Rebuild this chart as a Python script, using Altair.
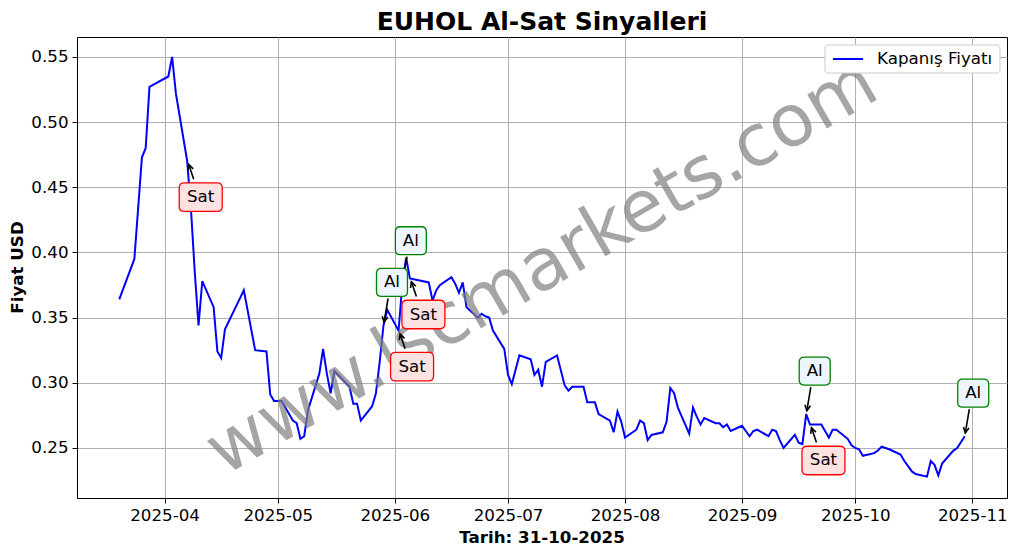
import altair as alt
import pandas as pd

# ---- data ----
dates = [
    "2025-03-20", "2025-03-24", "2025-03-26", "2025-03-27", "2025-03-28",
    "2025-04-02", "2025-04-03", "2025-04-04", "2025-04-07", "2025-04-08",
    "2025-04-09", "2025-04-10", "2025-04-11", "2025-04-14", "2025-04-15",
    "2025-04-16", "2025-04-17", "2025-04-18", "2025-04-21", "2025-04-22",
    "2025-04-25", "2025-04-28", "2025-04-29", "2025-04-30", "2025-05-02",
    "2025-05-05", "2025-05-06", "2025-05-07", "2025-05-08", "2025-05-09",
    "2025-05-12", "2025-05-13", "2025-05-14", "2025-05-15", "2025-05-16",
    "2025-05-20", "2025-05-21", "2025-05-22", "2025-05-23", "2025-05-26",
    "2025-05-27", "2025-05-28", "2025-05-29", "2025-05-30", "2025-06-02",
    "2025-06-03", "2025-06-04", "2025-06-05", "2025-06-10", "2025-06-11",
    "2025-06-12", "2025-06-13", "2025-06-16", "2025-06-17", "2025-06-18",
    "2025-06-19", "2025-06-20", "2025-06-23", "2025-06-24", "2025-06-25",
    "2025-06-26", "2025-06-27", "2025-06-30", "2025-07-01", "2025-07-02",
    "2025-07-03", "2025-07-04", "2025-07-07", "2025-07-08", "2025-07-09",
    "2025-07-10", "2025-07-11", "2025-07-14", "2025-07-16", "2025-07-17",
    "2025-07-18", "2025-07-21", "2025-07-22", "2025-07-23", "2025-07-24",
    "2025-07-25", "2025-07-28", "2025-07-29", "2025-07-30", "2025-07-31",
    "2025-08-01", "2025-08-04", "2025-08-05", "2025-08-06", "2025-08-07",
    "2025-08-08", "2025-08-11", "2025-08-12", "2025-08-13", "2025-08-14",
    "2025-08-15", "2025-08-18", "2025-08-19", "2025-08-20", "2025-08-21",
    "2025-08-22", "2025-08-25", "2025-08-26", "2025-08-27", "2025-08-28",
    "2025-08-29", "2025-09-01", "2025-09-02", "2025-09-03", "2025-09-04",
    "2025-09-05", "2025-09-08", "2025-09-09", "2025-09-10", "2025-09-11",
    "2025-09-12", "2025-09-15", "2025-09-16", "2025-09-17", "2025-09-18",
    "2025-09-19", "2025-09-22", "2025-09-23", "2025-09-24", "2025-09-25",
    "2025-09-26", "2025-09-29", "2025-09-30", "2025-10-01", "2025-10-02",
    "2025-10-03", "2025-10-06", "2025-10-07", "2025-10-08", "2025-10-09",
    "2025-10-10", "2025-10-13", "2025-10-14", "2025-10-15", "2025-10-16",
    "2025-10-17", "2025-10-20", "2025-10-21", "2025-10-22", "2025-10-23",
    "2025-10-24", "2025-10-27", "2025-10-28", "2025-10-30",
]
prices = [
    0.364, 0.395, 0.473, 0.480, 0.527,
    0.535, 0.550, 0.522, 0.470, 0.433,
    0.385, 0.344, 0.378, 0.358, 0.324,
    0.319, 0.341, 0.347, 0.365, 0.371,
    0.325, 0.324, 0.291, 0.286, 0.286,
    0.271, 0.269, 0.257, 0.259, 0.279,
    0.307, 0.326, 0.307, 0.292, 0.309,
    0.297, 0.284, 0.284, 0.271, 0.282,
    0.292, 0.316, 0.344, 0.356, 0.340,
    0.376, 0.396, 0.380, 0.377, 0.363,
    0.371, 0.375, 0.381, 0.376, 0.369,
    0.377, 0.358, 0.350, 0.353, 0.351,
    0.350, 0.340, 0.326, 0.306, 0.299,
    0.310, 0.321, 0.318, 0.306, 0.310,
    0.297, 0.316, 0.321, 0.298, 0.294,
    0.297, 0.297, 0.285, 0.285, 0.285,
    0.276, 0.271, 0.262, 0.278, 0.270,
    0.258, 0.264, 0.271, 0.269, 0.256,
    0.260, 0.262, 0.270, 0.296, 0.292,
    0.281, 0.261, 0.281, 0.274, 0.268,
    0.273, 0.269, 0.269, 0.266, 0.268,
    0.263, 0.267, 0.263, 0.259, 0.263,
    0.264, 0.259, 0.264, 0.263, 0.256,
    0.250, 0.260, 0.254, 0.253, 0.276,
    0.268, 0.268, 0.263, 0.258, 0.264,
    0.264, 0.257, 0.252, 0.250, 0.249,
    0.244, 0.246, 0.248, 0.251, 0.250,
    0.249, 0.245, 0.240, 0.236, 0.232,
    0.230, 0.228, 0.240, 0.237, 0.229,
    0.238, 0.248, 0.250, 0.259,
]

signal_dates = ["2025-04-07", "2025-05-29", "2025-06-02", "2025-06-03",
                "2025-06-05", "2025-09-18", "2025-09-19", "2025-10-30"]
signal_types = ["Sat", "Al", "Sat", "Al", "Sat", "Al", "Sat", "Al"]

title_text = "EUHOL Al-Sat Sinyalleri"
x_title = "Tarih: 31-10-2025"
y_title = "Fiyat USD"
legend_label = "Kapanış Fiyatı"
watermark = "www.lscmarkets.com"

# ---- tables ----
df = pd.DataFrame({"date": pd.to_datetime(dates), "price": prices})
sig = pd.DataFrame({"date": pd.to_datetime(signal_dates), "type": signal_types})
sig = sig.merge(df, on="date", how="left")
sig_al = sig[sig["type"] == "Al"]
sig_sat = sig[sig["type"] == "Sat"]

W, H = 930, 461
FONT = "DejaVu Sans"
FS = 16.7

x_scale = alt.Scale(domain=[alt.DateTime(year=2025, month=3, date=8, hours=19, minutes=12),
                            alt.DateTime(year=2025, month=11, date=10, hours=4, minutes=48)],
                    nice=False)
y_scale = alt.Scale(domain=[0.2116, 0.5653], nice=False, zero=False)
x_axis = alt.Axis(title=None, format="%Y-%m",
                  values=[alt.DateTime(year=2025, month=m, date=1) for m in range(4, 12)],
                  labelFlush=False, labelPadding=4, tickSize=5)
y_axis = alt.Axis(title=None, format=".2f", values=[0.25, 0.30, 0.35, 0.40, 0.45, 0.50, 0.55],
                  labelPadding=4, tickSize=5)

X = alt.X("date:T", scale=x_scale, axis=x_axis)
Y = alt.Y("price:Q", scale=y_scale, axis=y_axis)

line = alt.Chart(df).mark_line(color="blue", strokeWidth=2).encode(x=X, y=Y)

one = pd.DataFrame({"k": [0]})
wm = alt.Chart(one).mark_text(text=watermark, font=FONT, fontSize=72, angle=330,
                              color="#808080", opacity=0.7, align="center",
                              baseline="middle").encode(x=alt.value(W / 2), y=alt.value(H / 2))

AL_PATH = ("M -0.68 -0.903 L 0.68 -0.903 Q 1 -0.903 1 -0.583 L 1 0.583 Q 1 0.903 0.68 0.903 "
           "L -0.68 0.903 Q -1 0.903 -1 0.583 L -1 -0.583 Q -1 -0.903 -0.68 -0.903 Z")
SAT_PATH = ("M -0.767 -0.663 L 0.767 -0.663 Q 1 -0.663 1 -0.43 L 1 0.43 Q 1 0.663 0.767 0.663 "
            "L -0.767 0.663 Q -1 0.663 -1 0.43 L -1 -0.43 Q -1 -0.663 -0.767 -0.663 Z")
HEAD = "M -0.5 1 L 0 0 L 0.5 1"


def annot(data, dx, dy, sx, sy, tx, ty, ang, path, size, fill, stroke):
    c = alt.Chart(data)
    shaft = c.mark_rule(color="black", strokeWidth=1.6, xOffset=sx, yOffset=sy,
                        x2Offset=tx, y2Offset=ty).encode(x=X, y=Y, x2="date:T", y2="price:Q")
    head = c.mark_point(shape=HEAD, size=125, filled=False, color="black", strokeWidth=1.6,
                        opacity=1, angle=ang, xOffset=tx, yOffset=ty).encode(x=X, y=Y)
    box = c.mark_point(shape=path, size=size, filled=True, fill=fill, stroke=stroke,
                       strokeWidth=1.3, opacity=1, fillOpacity=1,
                       xOffset=dx, yOffset=dy).encode(x=X, y=Y)
    txt = c.mark_text(font=FONT, fontSize=FS, color="black", align="center",
                      baseline="middle", dx=dx, dy=dy).encode(x=X, y=Y, text="type:N")
    return [shaft, head, box, txt]


al_layers = annot(sig_al, 8.5, -43, 4.6, -27, 0.6, -3.3, 189.6, AL_PATH, 961, "#eef6fd", "green")
sat_layers = annot(sig_sat, 13.5, 36, 6.5, 18, 1.5, 3.3, 341.2, SAT_PATH, 1849, "#fde2e2", "red")

# legend box (upper right)
leg_box = alt.Chart(one).mark_rect(fill="white", stroke="#cccccc", strokeWidth=1,
                                   cornerRadius=3).encode(
    x=alt.value(W - 182), x2=alt.value(W - 7), y=alt.value(8), y2=alt.value(36))
leg_line = alt.Chart(one).mark_rule(color="blue", strokeWidth=2).encode(
    x=alt.value(W - 174), x2=alt.value(W - 144), y=alt.value(22))
leg_text = alt.Chart(one).mark_text(text=legend_label, font=FONT, fontSize=FS, align="left",
                                    baseline="middle", color="black").encode(
    x=alt.value(W - 130), y=alt.value(22))

title = alt.Chart(one).mark_text(text=title_text, font=FONT, fontSize=25, fontWeight="bold",
                                 align="center", baseline="alphabetic", color="black").encode(
    x=alt.value(W / 2), y=alt.value(-7))
xt = alt.Chart(one).mark_text(text=x_title, font=FONT, fontSize=FS, fontWeight="bold",
                              align="center", baseline="alphabetic", color="black").encode(
    x=alt.value(W / 2), y=alt.value(506))
yt = alt.Chart(one).mark_text(text=y_title, font=FONT, fontSize=FS, fontWeight="bold",
                              align="center", baseline="middle", angle=270, color="black").encode(
    x=alt.value(-59), y=alt.value(H / 2))

chart = alt.layer(line, wm, *al_layers, *sat_layers, leg_box, leg_line, leg_text,
                  title, xt, yt).properties(
    width=W, height=H,
    padding={"left": 69, "top": 29, "right": 2, "bottom": 48},
    autosize=alt.AutoSizeParams(type="none"),
).configure_view(stroke="black", strokeWidth=1).configure_axis(
    grid=True, gridColor="#b0b0b0", gridWidth=1, domainColor="black", tickColor="black",
    labelFont=FONT, labelFontSize=FS, labelColor="black",
)

chart.save("out.html", embed_options={"renderer": "svg", "actions": False})
